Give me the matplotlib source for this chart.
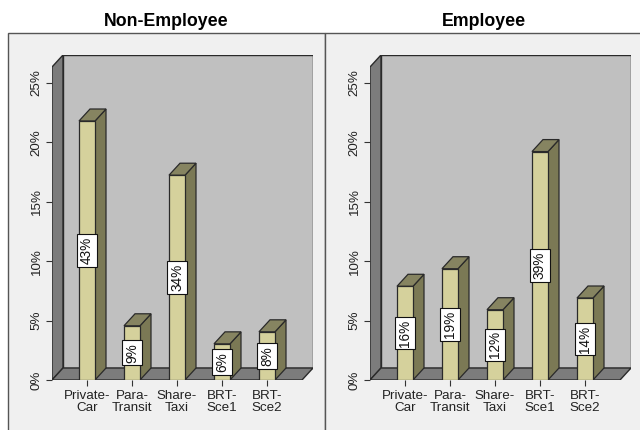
import matplotlib
matplotlib.use("Agg")
import matplotlib.pyplot as plt
from matplotlib.patches import Polygon, Rectangle

plt.rcParams['font.family'] = ['Liberation Sans', 'DejaVu Sans']

# ---- data -------------------------------------------------------------
modes = ["Private-\nCar", "Para-\nTransit", "Share-\nTaxi", "BRT-\nSce1", "BRT-\nSce2"]
groups = ["Non-Employee", "Employee"]
# share of each group among all respondents (%)
group_share = [50.7, 49.3]
# mode split within each group (%)
within_pct = {
    "Non-Employee": [43, 9, 34, 6, 8],
    "Employee": [16, 19, 12, 39, 14],
}
y_ticks = [0, 5, 10, 15, 20, 25]
y_tick_labels = ["0%", "5%", "10%", "15%", "20%", "25%"]

# ---- styling ----------------------------------------------------------
W, H, DPI = 640, 430, 100
FRONT = "#d5d19c"
TOP = "#868461"
SIDE = "#7b7955"
BACK_WALL = "#c0c0c0"
SIDE_WALL = "#7c7c7c"
EDGE = "#2a2a2a"
PANEL_BG = "#f0f0f0"

PX_PER_CAT = 45.0          # horizontal pixels per category
PX_PER_PCT = 297.0 / 25.0  # vertical pixels per percent
DEPTH_PX = (11.0, 12.0)    # 3-D depth offset in pixels
MARGIN_PX = 35.0           # front-floor margin before first bar centre
BAR_HALF_PX = 8.0

fig = plt.figure(figsize=(W / DPI, H / DPI), dpi=DPI)
fig.patch.set_facecolor("white")

# panel frames
panels = [(8, 325), (325, 660)]
for (x0, x1) in panels:
    fig.add_artist(Rectangle((x0 / W, -0.05), (x1 - x0) / W, (H - 33) / H + 0.05,
                             transform=fig.transFigure, facecolor=PANEL_BG,
                             edgecolor="#555555", linewidth=1.0, zorder=0))

title_x = [166, 484]
axis_left_px = [52, 370]
zero_px, top_px = 380, 55

for gi, g in enumerate(groups):
    vals = [p * group_share[gi] / 100.0 for p in within_pct[g]]
    n = len(vals)
    dx = DEPTH_PX[0] / PX_PER_CAT
    dy = DEPTH_PX[1] / PX_PER_PCT
    x_lo = -MARGIN_PX / PX_PER_CAT
    x_front_hi = (n - 1) + MARGIN_PX / PX_PER_CAT
    x_hi = x_front_hi + dx
    y_top = (zero_px - top_px) / PX_PER_PCT

    width_px = (x_hi - x_lo) * PX_PER_CAT
    ax = fig.add_axes([axis_left_px[gi] / W, (H - zero_px) / H,
                       width_px / W, (zero_px - top_px) / H])
    ax.set_xlim(x_lo, x_hi)
    ax.set_ylim(0, y_top)
    ax.patch.set_visible(False)
    for s in ax.spines.values():
        s.set_visible(False)

    # walls and floor
    ax.add_patch(Rectangle((x_lo + dx, dy), x_hi - (x_lo + dx), y_top - dy,
                           facecolor=BACK_WALL, edgecolor=EDGE, lw=1.0, zorder=1))
    ax.add_patch(Polygon([(x_lo, 0), (x_lo + dx, dy), (x_lo + dx, y_top), (x_lo, y_top - dy)],
                         closed=True, facecolor=SIDE_WALL, edgecolor=EDGE, lw=1.0, zorder=1))
    ax.add_patch(Polygon([(x_lo, 0), (x_front_hi, 0), (x_hi, dy), (x_lo + dx, dy)],
                         closed=True, facecolor=SIDE_WALL, edgecolor=EDGE, lw=1.0, zorder=1))

    # bars
    hw = BAR_HALF_PX / PX_PER_CAT
    for i, v in enumerate(vals):
        xa, xb = i - hw, i + hw
        ax.add_patch(Polygon([(xb, 0), (xb + dx, dy), (xb + dx, v + dy), (xb, v)],
                             closed=True, facecolor=SIDE, edgecolor=EDGE, lw=0.9, zorder=3))
        ax.add_patch(Polygon([(xa, v), (xb, v), (xb + dx, v + dy), (xa + dx, v + dy)],
                             closed=True, facecolor=TOP, edgecolor=EDGE, lw=0.9, zorder=3))
        ax.add_patch(Rectangle((xa, 0), xb - xa, v, facecolor=FRONT,
                               edgecolor=EDGE, lw=0.9, zorder=4))
        ax.text(i, v / 2.0, f"{within_pct[g][i]}%", rotation=90, ha="center", va="center",
                fontsize=9.8, color="#111111", zorder=5,
                bbox=dict(boxstyle="square,pad=0.2", facecolor="white",
                          edgecolor="#111111", linewidth=0.8))

    ax.set_yticks(y_ticks)
    ax.set_yticklabels(y_tick_labels, rotation=90, va="center", fontsize=9.6, color="#222222")
    ax.set_xticks(range(n))
    ax.set_xticklabels(modes, fontsize=9.6, color="#222222")
    for lbl in ax.get_xticklabels():
        lbl.set_linespacing(1.0)
    ax.tick_params(axis="y", direction="out", length=4.3, width=0.8, color="#333333", pad=2.5)
    ax.tick_params(axis="x", direction="out", length=4.3, width=0.8, color="#333333", pad=3)

    fig.text(title_x[gi] / W, 1 - 21 / H, g, ha="center", va="center",
             fontsize=12.8, fontweight="bold", color="black")

fig.savefig("out.png", dpi=DPI)
